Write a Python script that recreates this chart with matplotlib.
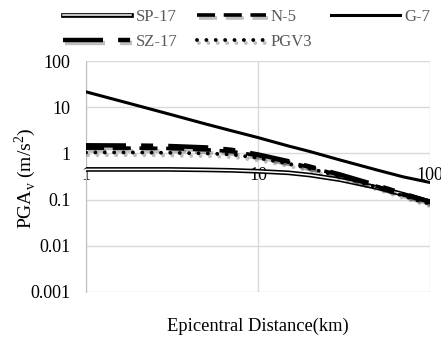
import matplotlib
matplotlib.use("Agg")
import matplotlib.pyplot as plt
import matplotlib.patheffects as pe
from matplotlib.ticker import FixedLocator, FixedFormatter, NullLocator

plt.rcParams['font.family'] = ['Liberation Serif', 'DejaVu Serif']

# Epicentral distance (km)
distance = [1, 2, 3, 5, 7, 10, 15, 20, 30, 50, 70, 100]

sp17 = [0.45, 0.45, 0.45, 0.44, 0.43, 0.41, 0.38, 0.34, 0.27, 0.18, 0.13, 0.09]
n5 = [1.3, 1.3, 1.28, 1.2, 1.1, 0.9, 0.65, 0.5, 0.34, 0.19, 0.13, 0.085]
g7 = [21.5, 10.8, 7.2, 4.3, 3.1, 2.2, 1.45, 1.1, 0.72, 0.43, 0.31, 0.235]
sz17 = [1.5, 1.48, 1.45, 1.35, 1.2, 0.95, 0.68, 0.52, 0.35, 0.2, 0.135, 0.09]
pgv3 = [1.05, 1.05, 1.03, 1.0, 0.95, 0.8, 0.6, 0.47, 0.32, 0.18, 0.12, 0.08]

y_ticks = [0.001, 0.01, 0.1, 1, 10, 100]
y_tick_labels = ['0.001', '0.01', '0.1', '1', '10', '100']
x_ticks = [1, 10, 100]
x_tick_labels = ['1', '10', '100']

fig = plt.figure(figsize=(4.41, 3.41), dpi=100)
ax = fig.add_axes([86/441, 1-292/341, (430-86)/441, (292-61)/341])
ax.set_xscale('log')
ax.set_yscale('log')
ax.set_xlim(1, 100)
ax.set_ylim(0.001, 100)

shadow = [pe.SimpleLineShadow(offset=(1.5, -2), shadow_color='black', alpha=0.25), pe.Normal()]

h_sp, = ax.plot(distance, sp17, color='white', lw=1.1, label='SP-17',
                path_effects=[pe.Stroke(linewidth=3.4, foreground='black'), pe.Normal()], zorder=3)
h_n5, = ax.plot(distance, n5, color='black', lw=2.6, dashes=(5.0, 2.4), label='N-5',
                path_effects=shadow, zorder=4)
h_g7, = ax.plot(distance, g7, color='black', lw=2.2, label='G-7', zorder=5)
h_sz, = ax.plot(distance, sz17, color='black', lw=3.2, dashes=(9.0, 3.4, 2.7, 3.4), label='SZ-17',
                path_effects=shadow, zorder=4)
h_pg, = ax.plot(distance, pgv3, color='black', lw=2.8, linestyle=(0, (0.01, 2.4)),
                dash_capstyle='round', label='PGV3', path_effects=shadow, zorder=4)

grid_c = '#d9d9d9'
ax.grid(True, which='major', color=grid_c, lw=1.0)
ax.set_axisbelow(True)
for s in ['top', 'right']:
    ax.spines[s].set_visible(False)
ax.spines['left'].set_color('#bfbfbf')
ax.spines['bottom'].set_position(('data', 1))
ax.spines['bottom'].set_visible(False)

ax.yaxis.set_major_locator(FixedLocator(y_ticks))
ax.yaxis.set_major_formatter(FixedFormatter(y_tick_labels))
ax.yaxis.set_minor_locator(NullLocator())
ax.xaxis.set_major_locator(FixedLocator(x_ticks))
ax.xaxis.set_major_formatter(FixedFormatter(x_tick_labels))
ax.xaxis.set_minor_locator(NullLocator())
ax.tick_params(axis='y', length=0, pad=11, labelsize=13, labelcolor='#000000')
ax.tick_params(axis='x', length=0, pad=10, labelsize=13, labelcolor='#000000')

fig.text(25/441, 1-178/341, 'PGA$_\\mathregular{v}$ (m/s$^\\mathregular{2}$)', rotation=90,
         ha='center', va='center', fontsize=14)
fig.text(258/441, 1-326/341, 'Epicentral Distance(km)', ha='center', va='center', fontsize=13.3)

# order so rows read: SP-17, N-5, G-7 / SZ-17, PGV3
handles = [h_sp, h_sz, h_n5, h_pg, h_g7]
labels = [h.get_label() for h in handles]
leg = fig.legend(handles, labels, loc='upper left', bbox_to_anchor=(63/441, 1-9/341), ncol=3,
                 frameon=False, fontsize=12, handlelength=4.1, handletextpad=0.3,
                 columnspacing=1.15, labelspacing=0.55, borderpad=0, borderaxespad=0)
for t in leg.get_texts():
    t.set_color('#595959')

fig.savefig('out.png', dpi=100)
